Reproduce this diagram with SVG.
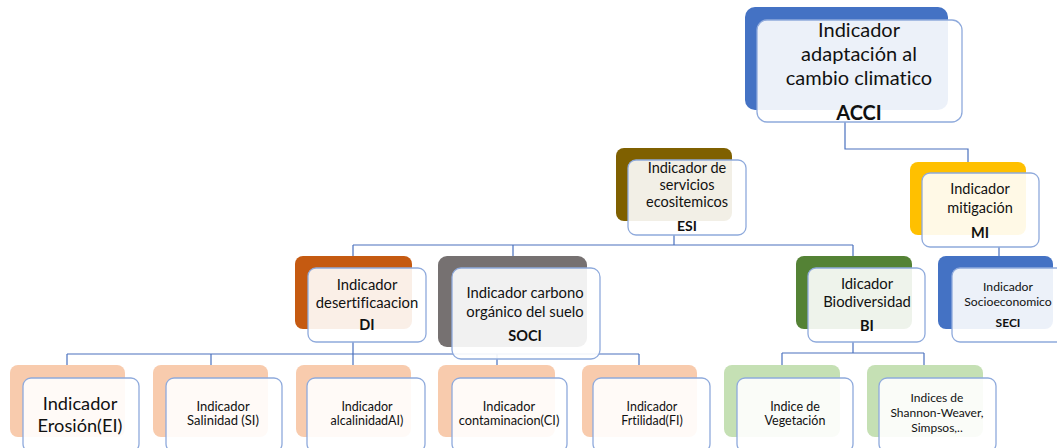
<svg xmlns="http://www.w3.org/2000/svg" width="1057" height="448" viewBox="0 0 1057 448">
<style>
.bk{stroke:none}
.fr{fill:#ffffff;fill-opacity:0.9;stroke:#8FAADC;stroke-width:1.3}
.cn{fill:none;stroke:#4A71BE;stroke-width:1.2}
text{font-family:Lato,"Liberation Sans",sans-serif;fill:#111;text-anchor:middle;font-variant-ligatures:none}
.b{font-weight:bold}
</style>
<rect width="1057" height="448" fill="#ffffff"/>
<g id="connectors">
<path class="cn" d="M845 122V149H968V162"/>
<path class="cn" d="M674 235V245M353 245H853M353 245V256M513 245V256M853 245V256"/>
<path class="cn" d="M999 247V256"/>
<path class="cn" d="M353 342V354M67 354H639M67 354V365M211 354V365M353 354V365M497 354V365M639 354V365"/>
<path class="cn" d="M853 342V353M782 353H924M782 353V365M924 353V365"/>
</g>
<g id="ACCI">
<rect class="bk" x="745" y="7" width="203" height="103" rx="10" fill="#4472C4"/>
<rect class="fr" x="757" y="20" width="205" height="102" rx="10"/>
<text x="859" y="37" font-size="20">Indicador</text>
<text x="859" y="61" font-size="20">adaptación al</text>
<text x="859" y="85" font-size="20">cambio climatico</text>
<text class="b" x="859" y="120" font-size="20">ACCI</text>
</g>
<g id="ESI">
<rect class="bk" x="616" y="148" width="116" height="73" rx="8" fill="#7F6000"/>
<rect class="fr" x="628" y="160" width="118" height="75" rx="8"/>
<text x="687" y="173" font-size="14.5">Indicador de</text>
<text x="687" y="190" font-size="14.5">servicios</text>
<text x="687" y="207" font-size="14.5">ecositemicos</text>
<text class="b" x="687" y="231" font-size="14">ESI</text>
</g>
<g id="MI">
<rect class="bk" x="910" y="162" width="116" height="73" rx="8" fill="#FFC000"/>
<rect class="fr" x="922" y="173" width="117" height="74" rx="8"/>
<text x="980" y="194" font-size="14.5">Indicador</text>
<text x="980" y="213" font-size="14.5">mitigación</text>
<text class="b" x="980" y="238" font-size="14.5">MI</text>
</g>
<g id="DI">
<rect class="bk" x="295" y="256" width="117" height="73" rx="8" fill="#C55A11"/>
<rect class="fr" x="308" y="268" width="118" height="74" rx="8"/>
<text x="367" y="290" font-size="14.8">Indicador</text>
<text x="367" y="308" font-size="14.8">desertificaacion</text>
<text class="b" x="367" y="330" font-size="14.5">DI</text>
</g>
<g id="SOCI">
<rect class="bk" x="438" y="256" width="149" height="91" rx="9" fill="#767171"/>
<rect class="fr" x="452" y="268" width="148" height="91" rx="9"/>
<text x="525" y="298" font-size="14.8">Indicador carbono</text>
<text x="525" y="317" font-size="14.8">orgánico del suelo</text>
<text class="b" x="525" y="341" font-size="14.5">SOCI</text>
</g>
<g id="BI">
<rect class="bk" x="796" y="256" width="116" height="73" rx="8" fill="#548235"/>
<rect class="fr" x="808" y="268" width="117" height="74" rx="8"/>
<text x="867" y="289" font-size="14.8">Idicador</text>
<text x="867" y="307" font-size="14.8">Biodiversidad</text>
<text class="b" x="867" y="331" font-size="14.5">BI</text>
</g>
<g id="SECI">
<rect class="bk" x="938" y="256" width="115" height="73" rx="8" fill="#4472C4"/>
<rect class="fr" x="952" y="268" width="117" height="74" rx="8"/>
<text x="1008" y="291" font-size="12.2">Indicador</text>
<text x="1008" y="306" font-size="12.2">Socioeconomico</text>
<text class="b" x="1008" y="327" font-size="12">SECI</text>
</g>
<g id="EI">
<rect class="bk" x="10" y="365" width="115" height="72" rx="8" fill="#F8CBAD"/>
<rect class="fr" x="23" y="378" width="116" height="74" rx="8"/>
<text x="80" y="410" font-size="18.2">Indicador</text>
<text x="80" y="432" font-size="18.2">Erosión(EI)</text>
</g>
<g id="SI">
<rect class="bk" x="153" y="365" width="115" height="72" rx="8" fill="#F8CBAD"/>
<rect class="fr" x="166" y="378" width="116" height="74" rx="8"/>
<text x="223" y="411" font-size="13">Indicador</text>
<text x="223" y="425" font-size="13">Salinidad (SI)</text>
</g>
<g id="AI">
<rect class="bk" x="296" y="365" width="115" height="72" rx="8" fill="#F8CBAD"/>
<rect class="fr" x="307" y="378" width="118" height="74" rx="8"/>
<text x="367" y="411" font-size="12.5">Indicador</text>
<text x="367" y="425" font-size="12.5">alcalinidadAI)</text>
</g>
<g id="CI">
<rect class="bk" x="438" y="365" width="117" height="72" rx="8" fill="#F8CBAD"/>
<rect class="fr" x="452" y="378" width="115" height="74" rx="8"/>
<text x="509" y="411" font-size="12.8">Indicador</text>
<text x="509" y="425" font-size="12.8">contaminacion(CI)</text>
</g>
<g id="FI">
<rect class="bk" x="582" y="365" width="115" height="72" rx="8" fill="#F8CBAD"/>
<rect class="fr" x="593" y="378" width="117" height="74" rx="8"/>
<text x="652" y="411" font-size="12.4">Indicador</text>
<text x="652" y="425" font-size="12.4">Frtilidad(FI)</text>
</g>
<g id="IV">
<rect class="bk" x="724" y="365" width="116" height="72" rx="8" fill="#C5E0B4"/>
<rect class="fr" x="737" y="378" width="116" height="74" rx="8"/>
<text x="795" y="411" font-size="12.5">Indice de</text>
<text x="795" y="425" font-size="12.5">Vegetación</text>
</g>
<g id="ISW">
<rect class="bk" x="867" y="365" width="116" height="72" rx="8" fill="#C5E0B4"/>
<rect class="fr" x="879" y="378" width="117" height="74" rx="8"/>
<text x="937" y="402" font-size="12">Indices de</text>
<text x="937" y="417" font-size="12">Shannon-Weaver,</text>
<text x="937" y="432" font-size="12">Simpsos,..</text>
</g>
</svg>
